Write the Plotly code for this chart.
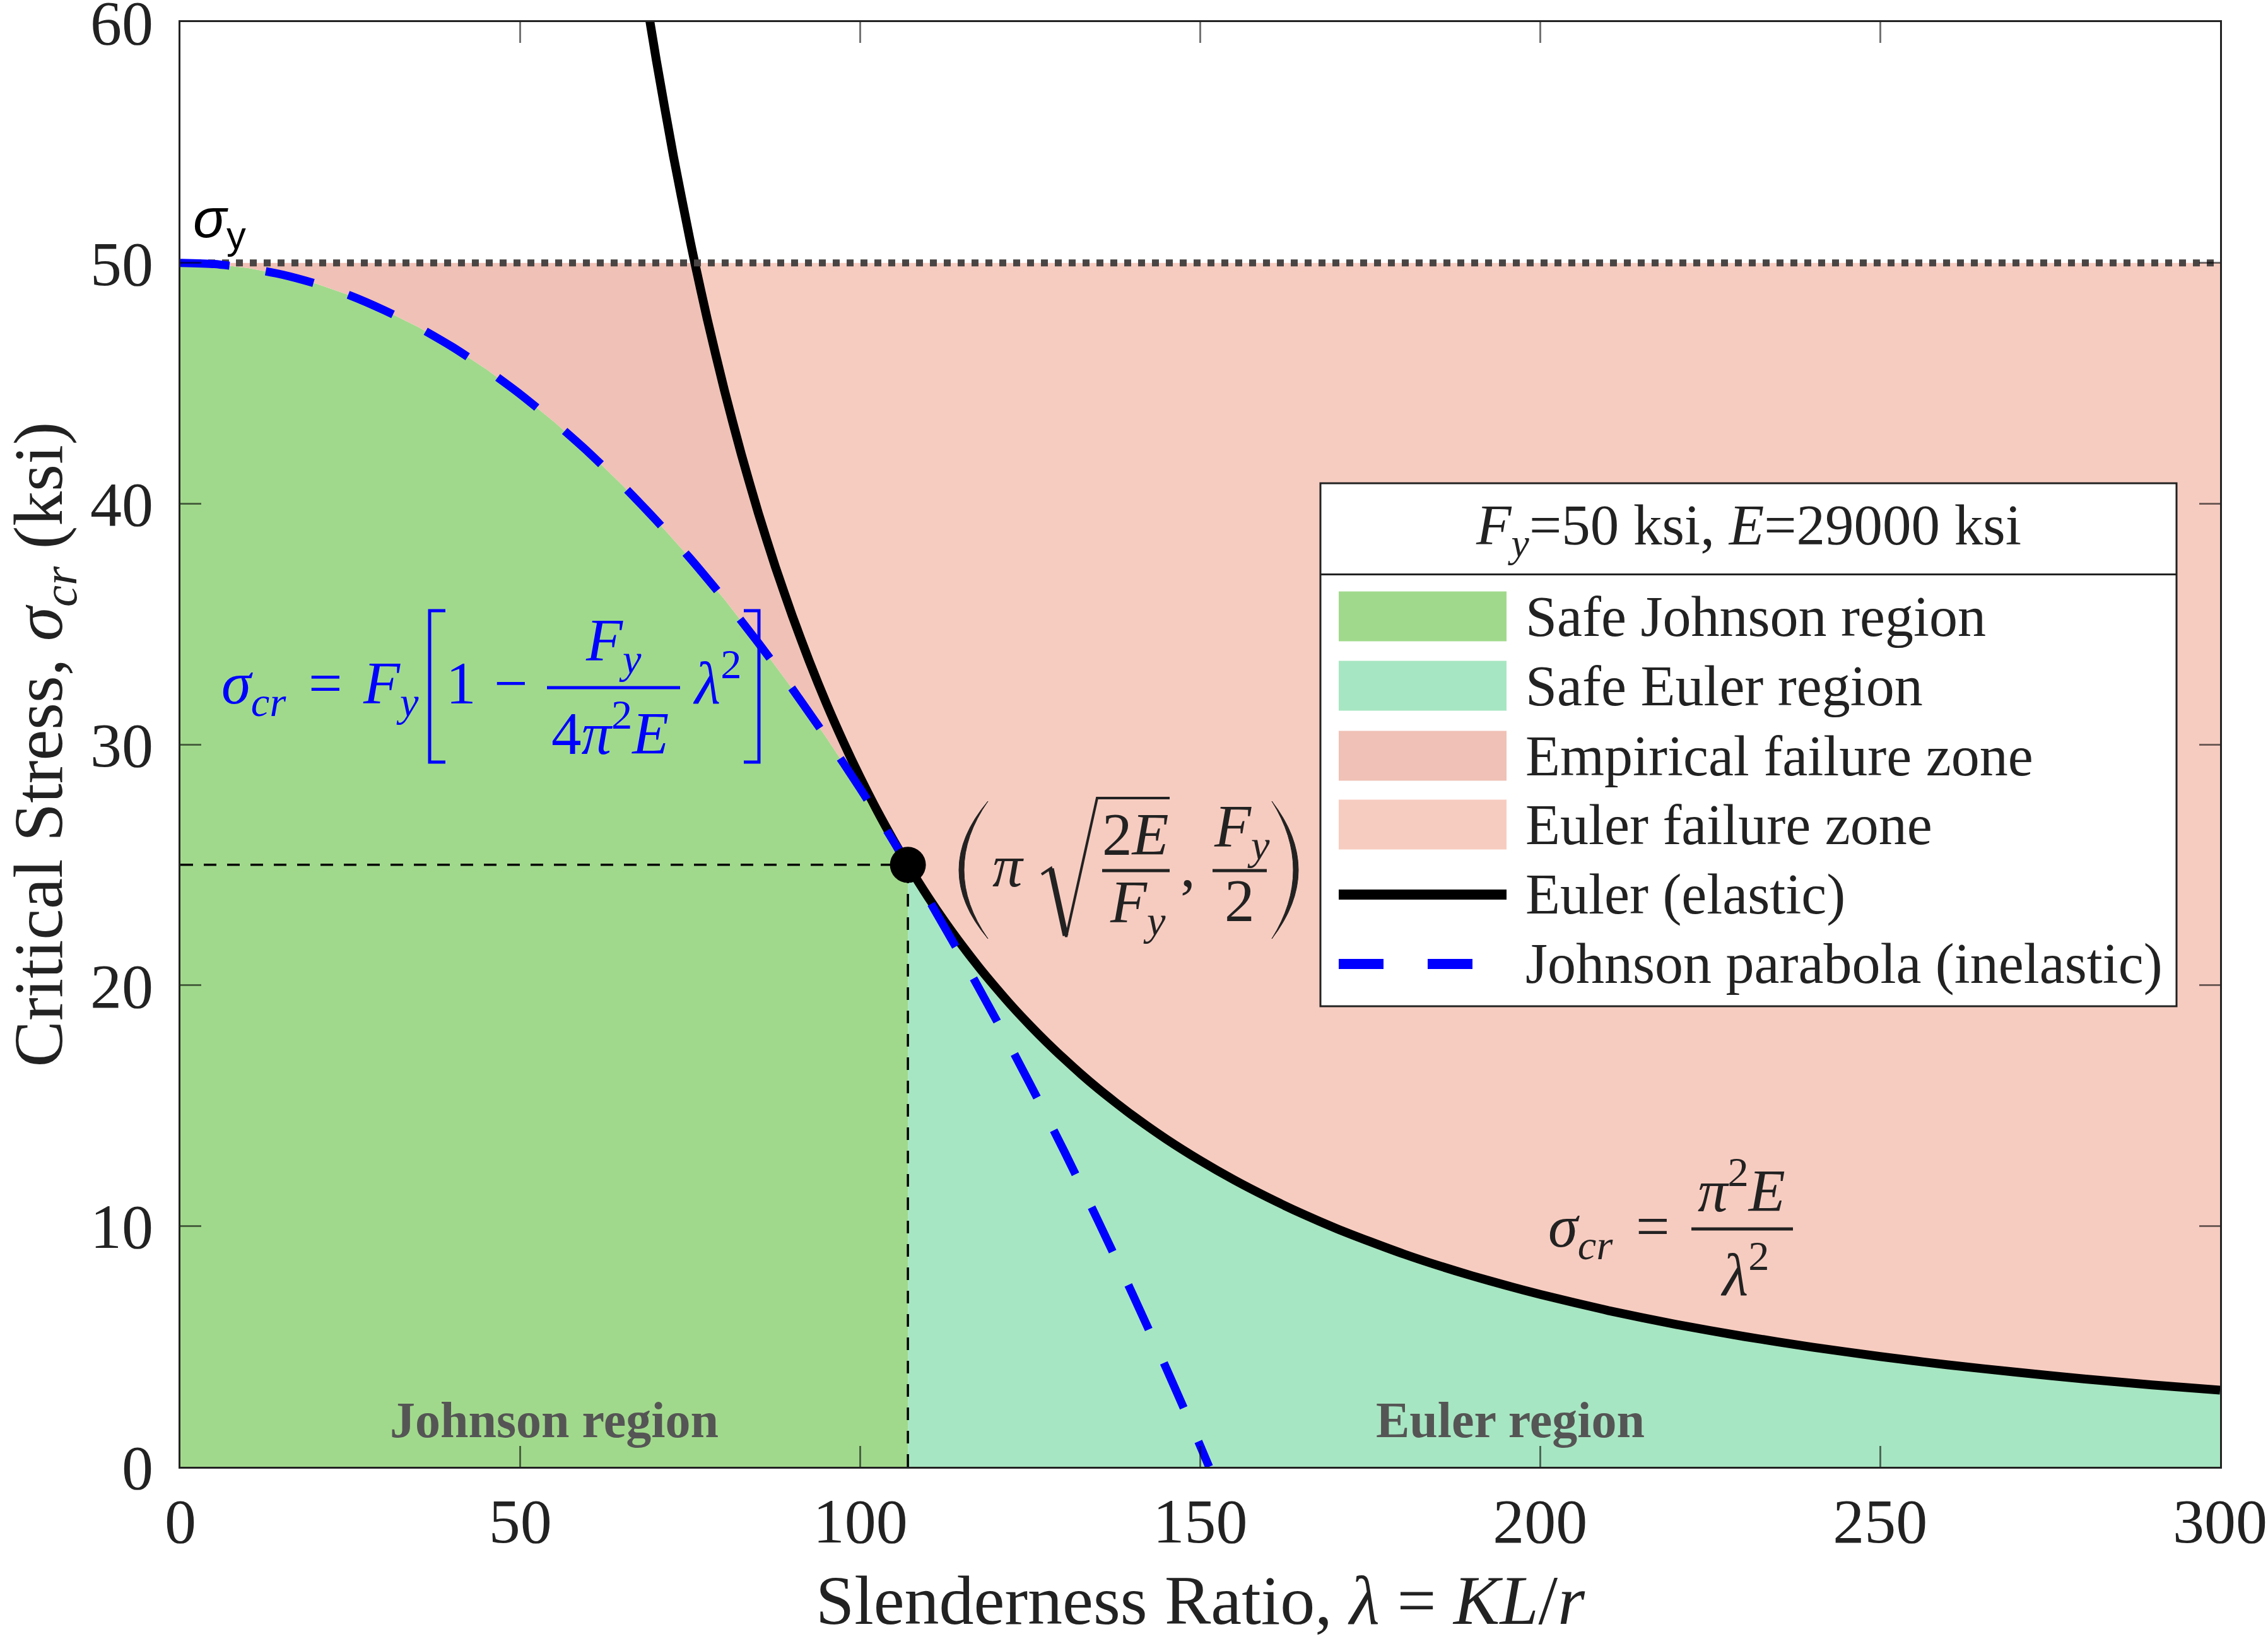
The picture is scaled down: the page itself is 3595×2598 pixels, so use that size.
import plotly.graph_objects as go

# ---------------- data ----------------
Fy = 50.0          # ksi
E = 29000.0        # ksi
Cc = 107.0         # transition slenderness
Cc_stress = 25.0   # Fy/2

euler_lambda = [69, 70, 72.5, 75, 75.66, 77.5, 80, 82.5, 85, 87.5, 90, 92.5, 95, 97.5, 100,
                102.5, 105, 107, 110, 112.5, 115, 117.5, 120, 122.5, 125, 127.5, 130, 132.5,
                135, 137.5, 140, 145, 150, 155, 160, 165, 170, 175, 180, 185, 190, 195, 200,
                210, 220, 230, 240, 250, 260, 270, 280, 290, 300]
euler_stress = [60.12, 58.41, 54.45, 50.88, 50.00, 47.65, 44.72, 42.05, 39.61, 37.38, 35.34,
                33.45, 31.71, 30.11, 28.62, 27.24, 25.96, 25.00, 23.65, 22.61, 21.64, 20.73,
                19.88, 19.07, 18.32, 17.61, 16.94, 16.30, 15.70, 15.14, 14.60, 13.61, 12.72,
                11.91, 11.18, 10.51, 9.90, 9.35, 8.83, 8.36, 7.93, 7.53, 7.16, 6.49, 5.91,
                5.41, 4.97, 4.58, 4.23, 3.93, 3.65, 3.40, 3.18]

johnson_lambda = [0, 5, 10, 15, 20, 25, 30, 35, 40, 45, 50, 55, 60, 65, 70, 75, 80, 85, 90,
                  95, 100, 104, 107, 110, 115, 120, 125, 130, 135, 140, 145, 150, 151.3]
johnson_stress = [50.00, 49.95, 49.78, 49.51, 49.13, 48.64, 48.03, 47.33, 46.51, 45.58, 44.54,
                  43.39, 42.14, 40.77, 39.30, 37.72, 36.03, 34.22, 32.31, 30.29, 28.16, 26.38,
                  25.00, 23.58, 21.12, 18.56, 15.88, 13.10, 10.20, 7.20, 4.09, 0.87, 0.00]

x_ticks = [0, 50, 100, 150, 200, 250, 300]
x_ticklabels = ["0", "50", "100", "150", "200", "250", "300"]
y_ticks = [0, 10, 20, 30, 40, 50, 60]
y_ticklabels = ["0", "10", "20", "30", "40", "50", "60"]

legend_labels = ["Safe Johnson region", "Safe Euler region", "Empirical failure zone",
                 "Euler failure zone", "Euler (elastic)", "Johnson parabola (inelastic)"]

# ---------------- styles ----------------
C_JOHN = "#A1D98C"
C_EULSAFE = "#A7E6C2"
C_EMP = "#F0C1B6"
C_EULFAIL = "#F7CCC0"
SERIF = "Liberation Serif, Times New Roman, serif"
SANS = "Liberation Sans, Arial, sans-serif"
TXT = "#222222"
BLUE = "#0000FF"

W, H = 3595, 2598
L, R, T, B = 286, 76, 35, 273
X0, X1 = L, W - R
YT, YB = T, H - B
XMAX, YMAX = 300.0, 60.0


def dx(px):
    return (px - X0) / (X1 - X0) * XMAX


def dy(py):
    return (YB - py) / (YB - YT) * YMAX


def ann(text, xp, base, size, color=TXT, anchor="left", sub=False, sup=False,
        family=SERIF):
    top = base - 0.891 * size - (0.153 * size if sup else 0)
    bot = base + 0.216 * size + (0.145 * size if sub else 0)
    yc = (top + bot) / 2
    return dict(x=dx(xp), y=dy(yc), xref="x", yref="y", text=text, showarrow=False,
                xanchor=anchor, yanchor="middle", borderpad=0,
                font=dict(family=family, size=size, color=color))


fig = go.Figure()

# ---------------- filled regions ----------------
jl = [l for l in johnson_lambda if l <= Cc]
js = [s for l, s in zip(johnson_lambda, johnson_stress) if l <= Cc]
el_r = [l for l in euler_lambda if l >= Cc]
es_r = [s for l, s in zip(euler_lambda, euler_stress) if l >= Cc]
el_m = [l for l in euler_lambda if 75.66 <= l <= Cc]
es_m = [s for l, s in zip(euler_lambda, euler_stress) if 75.66 <= l <= Cc]
el_f = [l for l in euler_lambda if l >= 75.66]
es_f = [s for l, s in zip(euler_lambda, euler_stress) if l >= 75.66]

fig.add_trace(go.Scatter(x=jl + [Cc, 0], y=js + [0, 0], fill="toself", fillcolor=C_JOHN,
                         mode="lines", line=dict(width=0), name=legend_labels[0],
                         showlegend=False, hoverinfo="skip"))
fig.add_trace(go.Scatter(x=el_r + [XMAX, Cc], y=es_r + [0, 0], fill="toself",
                         fillcolor=C_EULSAFE, mode="lines", line=dict(width=0),
                         name=legend_labels[1], showlegend=False, hoverinfo="skip"))
fig.add_trace(go.Scatter(x=[0] + el_m + jl[::-1], y=[Fy] + es_m + js[::-1], fill="toself",
                         fillcolor=C_EMP, mode="lines", line=dict(width=0),
                         name=legend_labels[2], showlegend=False, hoverinfo="skip"))
fig.add_trace(go.Scatter(x=el_f + [XMAX], y=es_f + [Fy], fill="toself", fillcolor=C_EULFAIL,
                         mode="lines", line=dict(width=0), name=legend_labels[3],
                         showlegend=False, hoverinfo="skip"))

# ---------------- lines ----------------
fig.add_trace(go.Scatter(x=[0, Cc], y=[Cc_stress, Cc_stress], mode="lines",
                         line=dict(color="black", width=3.5, dash="20px,17px"),
                         showlegend=False, hoverinfo="skip"))
fig.add_trace(go.Scatter(x=[Cc, Cc], y=[0, Cc_stress], mode="lines",
                         line=dict(color="black", width=3.5, dash="20px,17px"),
                         showlegend=False, hoverinfo="skip"))
fig.add_trace(go.Scatter(x=euler_lambda, y=euler_stress, mode="lines",
                         line=dict(color="black", width=14, shape="spline", smoothing=0.6),
                         name=legend_labels[4], showlegend=False))
fig.add_trace(go.Scatter(x=[0, XMAX], y=[Fy, Fy], mode="lines",
                         line=dict(color="#4a4545", width=11, dash="11px,11px"),
                         showlegend=False, hoverinfo="skip"))
fig.add_trace(go.Scatter(x=johnson_lambda, y=johnson_stress, mode="lines",
                         line=dict(color=BLUE, width=13, dash="78px,58px", shape="spline",
                                   smoothing=0.6),
                         name=legend_labels[5], showlegend=False))
fig.add_trace(go.Scatter(x=[Cc], y=[Cc_stress], mode="markers",
                         marker=dict(color="black", size=57), showlegend=False))

# ---------------- shapes (equation decorations, legend) ----------------
shapes = []


def seg(x0, y0, x1, y1, color=TXT, width=4, dash=None):
    d = dict(type="line", xref="x", yref="y", x0=dx(x0), y0=dy(y0), x1=dx(x1), y1=dy(y1),
             line=dict(color=color, width=width))
    if dash:
        d["line"]["dash"] = dash
    return d


def path(points, color=TXT, width=4, closed=False, fill=None):
    p = "M " + " L ".join(f"{dx(a):.4f},{dy(b):.4f}" for a, b in points)
    if closed:
        p += " Z"
    d = dict(type="path", xref="x", yref="y", path=p, line=dict(color=color, width=width))
    if fill:
        d["fillcolor"] = fill
    return d


def paren(xtip, xbulge, ytop, ybot, thick, color=TXT):
    ym = (ytop + ybot) / 2
    sgn = 1 if xbulge > xtip else -1
    c_out = 2 * xbulge - xtip
    c_in = 2 * (xbulge - sgn * thick) - xtip
    p = (f"M {dx(xtip):.4f},{dy(ytop):.4f} Q {dx(c_out):.4f},{dy(ym):.4f} "
         f"{dx(xtip):.4f},{dy(ybot):.4f} Q {dx(c_in):.4f},{dy(ym):.4f} "
         f"{dx(xtip):.4f},{dy(ytop):.4f} Z")
    return dict(type="path", xref="x", yref="y", path=p, fillcolor=color,
                line=dict(color=color, width=1))


# Johnson formula brackets and fraction bar
shapes.append(path([(706, 968), (681, 968), (681, 1208), (706, 1208)], color=BLUE, width=5))
shapes.append(path([(1179, 968), (1203, 968), (1203, 1208), (1179, 1208)], color=BLUE, width=5))
shapes.append(seg(867, 1090, 1078, 1090, color=BLUE, width=5))
# Euler formula bar
shapes.append(seg(2681, 1948, 2842, 1948, width=5))
# transition point label
shapes.append(paren(1566, 1520, 1270, 1488, 8))
shapes.append(paren(2016, 2058, 1270, 1488, 8))
shapes.append(path([(1651, 1386), (1666, 1376), (1690, 1485), (1739, 1265), (1854, 1265)], width=4))
shapes.append(seg(1666, 1377, 1689, 1483, width=9))
shapes.append(seg(1747, 1380, 1854, 1380, width=5))
shapes.append(seg(1922, 1380, 2008, 1380, width=5))

# legend
LG_L, LG_R, LG_T, LG_B, LG_SEP = 2093, 3450, 766, 1595, 910.5
shapes.append(dict(type="rect", xref="x", yref="y", x0=dx(LG_L), x1=dx(LG_R), y0=dy(LG_T),
                   y1=dy(LG_B), fillcolor="white", line=dict(color=TXT, width=3)))
shapes.append(seg(LG_L, LG_SEP, LG_R, LG_SEP, width=3))
row_c = [977, 1087, 1198, 1307, 1418, 1528]
sw_colors = [C_JOHN, C_EULSAFE, C_EMP, C_EULFAIL]
for yc, col in zip(row_c[:4], sw_colors):
    shapes.append(dict(type="rect", xref="x", yref="y", x0=dx(2122), x1=dx(2388),
                       y0=dy(yc - 39.5), y1=dy(yc + 39.5), fillcolor=col, line=dict(width=0)))
shapes.append(seg(2122, row_c[4], 2388, row_c[4], color="black", width=16))
shapes.append(seg(2122, row_c[5], 2334, row_c[5], color=BLUE, width=16, dash="71px,70px"))

# ---------------- annotations ----------------
anns = []
EQ = 95
# Johnson formula
anns.append(ann("<i>σ</i><sub><i>cr</i></sub>", 350, 1115, EQ, BLUE, sub=True))
anns.append(ann("=", 516, 1115, EQ, BLUE, anchor="center"))
anns.append(ann("<i>F</i><sub><i>y</i></sub>", 574, 1115, EQ, BLUE, sub=True))
anns.append(ann("1", 731, 1115, EQ, BLUE, anchor="center"))
anns.append(ann("−", 810, 1115, EQ, BLUE, anchor="center"))
anns.append(ann("<i>F</i><sub><i>y</i></sub>", 972, 1047, EQ, BLUE, anchor="center", sub=True))
anns.append(ann("4<i>π</i><sup>2</sup><i>E</i>", 967, 1195, EQ, BLUE, anchor="center", sup=True))
anns.append(ann("<i>λ</i><sup>2</sup>", 1097, 1115, EQ, BLUE, sup=True))
# Euler formula
anns.append(ann("<i>σ</i><sub><i>cr</i></sub>", 2453, 1976, EQ, sub=True))
anns.append(ann("=", 2620, 1976, EQ, anchor="center"))
anns.append(ann("<i>π</i><sup>2</sup><i>E</i>", 2760, 1920, EQ, anchor="center", sup=True))
anns.append(ann("<i>λ</i><sup>2</sup>", 2765, 2053, EQ, anchor="center", sup=True))
# transition point label
anns.append(ann("<i>π</i>", 1572, 1405, EQ))
anns.append(ann("2<i>E</i>", 1800, 1355, EQ, anchor="center"))
anns.append(ann("<i>F</i><sub><i>y</i></sub>", 1803, 1462, EQ, anchor="center", sub=True))
anns.append(ann(",", 1870, 1405, EQ))
anns.append(ann("<i>F</i><sub><i>y</i></sub>", 1968, 1342, EQ, anchor="center", sub=True))
anns.append(ann("2", 1965, 1460, EQ, anchor="center"))
# sigma_y label
anns.append(ann("<i>σ</i><sub>y</sub>", 305, 375, 88, "black", sub=True, family=SANS))
# region labels
anns.append(dict(x=dx(878), y=dy(2251), xref="x", yref="y", text="<b>Johnson region</b>",
                 showarrow=False, xanchor="center", yanchor="middle",
                 font=dict(family=SERIF, size=80, color="#555555")))
anns.append(dict(x=dx(2394), y=dy(2251), xref="x", yref="y", text="<b>Euler region</b>",
                 showarrow=False, xanchor="center", yanchor="middle",
                 font=dict(family=SERIF, size=80, color="#555555")))
# legend title and entries
anns.append(ann("<i>F</i><sub><i>y</i></sub>=50 ksi, <i>E</i>=29000 ksi",
                (LG_L + LG_R) / 2, 863, 91, anchor="center", sub=True))
for yc, lab in zip(row_c, legend_labels):
    anns.append(dict(x=dx(2417), y=dy(yc), xref="x", yref="y", text=lab, showarrow=False,
                     xanchor="left", yanchor="middle", borderpad=0,
                     font=dict(family=SERIF, size=90, color=TXT)))

axis_common = dict(showgrid=False, zeroline=False, showline=True, linecolor=TXT, linewidth=3,
                   mirror="ticks", ticks="inside", ticklen=33, tickwidth=3,
                   tickcolor="rgba(0,0,0,0.55)", ticklabeloverflow="allow",
                   tickfont=dict(family=SERIF, size=100, color=TXT))

fig.update_layout(
    width=W, height=H,
    margin=dict(l=L, r=R, t=T, b=B, pad=0),
    paper_bgcolor="white", plot_bgcolor="white",
    showlegend=False,
    xaxis=dict(range=[0, XMAX], tickvals=x_ticks, ticktext=x_ticklabels,
               ticklabelstandoff=-3,
               title=dict(text="Slenderness Ratio, <i>λ</i> = <i>KL</i>/<i>r</i>",
                          font=dict(family=SERIF, size=110, color=TXT), standoff=46),
               automargin=False, **axis_common),
    yaxis=dict(range=[0, YMAX], tickvals=y_ticks, ticktext=y_ticklabels,
               ticklabelstandoff=20,
               title=dict(text="Critical Stress, <i>σ</i><sub><i>cr</i></sub> (ksi)",
                          font=dict(family=SERIF, size=110, color=TXT), standoff=80),
               automargin=False, **axis_common),
    shapes=shapes,
    annotations=anns,
)

fig.write_html("out.html")
